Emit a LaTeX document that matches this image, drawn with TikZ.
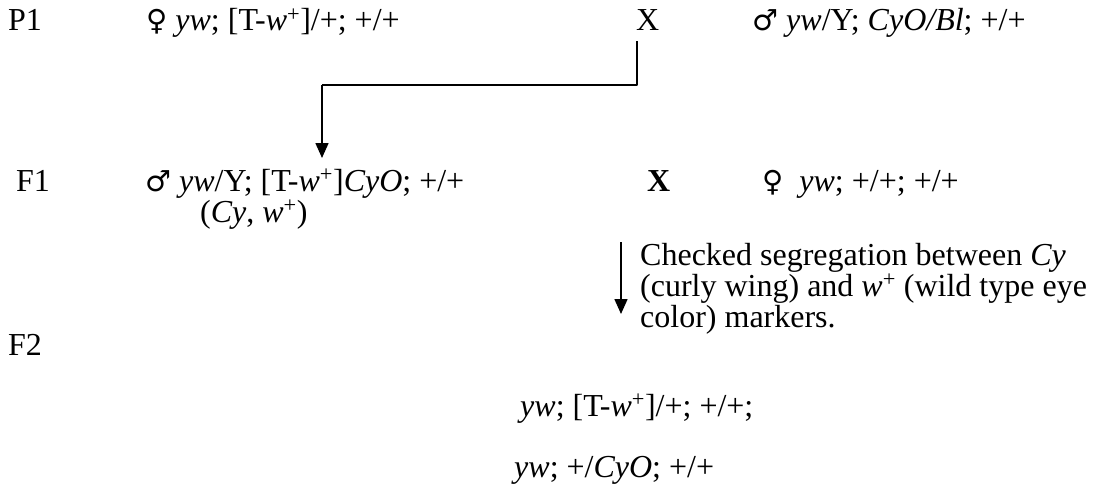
\documentclass[tikz,border=0pt]{standalone}
\usepackage{fontspec}
\setmainfont{Liberation Serif}
\newfontfamily\gsym{DejaVu Sans}
\usetikzlibrary{arrows.meta}
\newcommand{\fem}{{\gsym\fontsize{29}{31}\selectfont\char"2640}}
\newcommand{\mal}{{\gsym\fontsize{29}{31}\selectfont\char"2642}}
\newcommand{\wplus}{\textit{w}\textsuperscript{+}}

\begin{document}
\begin{tikzpicture}[x=1pt, y=-1pt, line join=round,
  every node/.style={anchor=base west, inner sep=0pt, font=\fontsize{32}{31}\selectfont},
  arr/.style={line width=1.6pt, -{Triangle[length=15pt, width=13pt]}}]
\useasboundingbox (0,0) rectangle (1120,495);
% parents
\node (P1) at (8,31) {P1};
\node (P1f) at (146,31) {\fem\ \textit{yw}; [T-\wplus]/+; +/+};
\node (X1) at (636,31) {X};
\node (P1m) at (752,31) {\mal\ \textit{yw}/Y; \textit{CyO/Bl}; +/+};
% F1
\node (F1) at (16,191) {F1};
\node (F1m) at (145,191) {\mal\ \textit{yw}/Y; [T-\wplus]\textit{CyO}; +/+};
\node (F1p) at (200,222) {(\textit{Cy}, \wplus)};
\node (X2) at (647,191) {\textbf{X}};
\node (F1f) at (762,191) {\fem\ \ \textit{yw}; +/+; +/+};
% F2
\node (F2) at (8,355) {F2};
\node (F2a) at (520,416) {\textit{yw}; [T-\wplus]/+; +/+;};
\node (F2b) at (514,477) {\textit{yw}; +/\textit{CyO}; +/+};
\node[align=left] (seg) at (640,327)
  {Checked segregation between \textit{Cy}\\(curly wing) and \wplus\ (wild type eye\\color) markers.};
% connectors
\coordinate (turn) at (322,85);
\coordinate (F1in) at (322,158);
\coordinate (segtop) at (621,242);
\coordinate (segbot) at (621,314);
\draw[line width=1.6pt] ([yshift=-10pt, xshift=1pt]X1.south west) |- (turn);
\draw[arr] (turn) -- (F1in);
\draw[arr] (segtop) -- (segbot);
\end{tikzpicture}
\end{document}
